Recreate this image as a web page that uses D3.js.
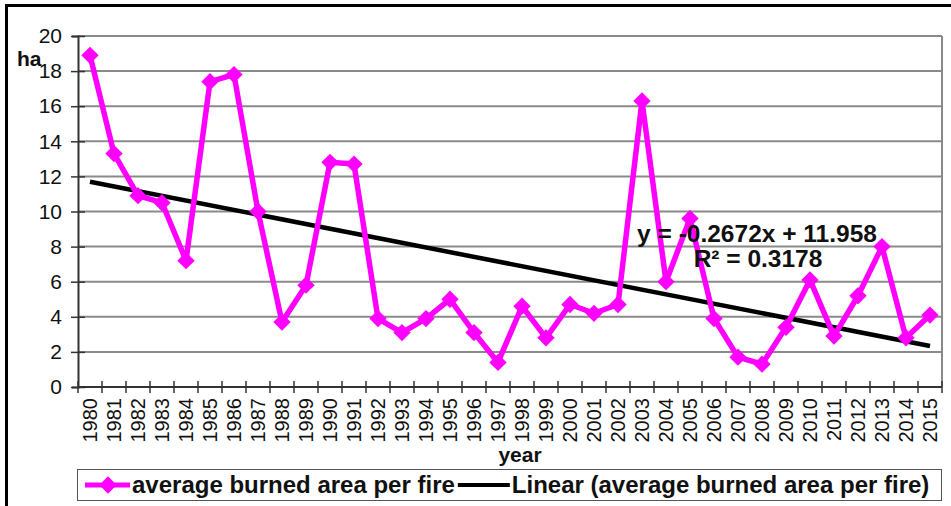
<!DOCTYPE html>
<html>
<head>
<meta charset="utf-8">
<script src="https://cdn.jsdelivr.net/npm/d3@7"></script>
<style>
  body { margin: 0; background: #fff; }
  text { font-family: Arial, "Liberation Sans", sans-serif; fill: #111; }
</style>
</head>
<body>
<svg id="chart" width="951" height="506"></svg>
<script>
// Data.
const years = d3.range(1980, 2016).map(String);
const burnedArea = [18.9, 13.3, 10.9, 10.5, 7.2, 17.4, 17.8, 10.0, 3.7, 5.8,
    12.8, 12.7, 3.9, 3.1, 3.9, 5.0, 3.1, 1.4, 4.6, 2.8,
    4.7, 4.2, 4.7, 16.3, 6.0, 9.6, 3.9, 1.7, 1.3, 3.4,
    6.1, 2.9, 5.2, 8.0, 2.8, 4.1];
const trendSlope = -0.2672;
const trendIntercept = 11.958;
const yTicks = [0, 2, 4, 6, 8, 10, 12, 14, 16, 18, 20];
const equationLines = ["y = -0.2672x + 11.958", "R\u00b2 = 0.3178"];
const legendLabels = ["average burned area per fire", "Linear (average burned area per fire)"];

const svg = d3.select("#chart");

// Plot area.
const plotLeft = 78, plotRight = 942, plotTop = 36, plotBottom = 387;

let x = d3.scaleBand().domain(years).range([plotLeft, plotRight]);
let y = d3.scaleLinear().domain([0, 20]).range([plotBottom, plotTop]);

// Outer frame (only top and left edges show).
svg.append("path")
    .attr("d", "M6.5,506 V5.5 H951")
    .attr("fill", "none")
    .attr("stroke", "#000")
    .attr("stroke-width", 3);

// Gridlines.
svg.append("g")
    .selectAll("line")
    .data(yTicks.filter(t => t > 0))
    .join("line")
    .attr("x1", plotLeft)
    .attr("x2", plotRight)
    .attr("y1", d => y(d))
    .attr("y2", d => y(d))
    .attr("stroke", "#8a8a8a")
    .attr("stroke-width", 2);

// Right border of the plot.
svg.append("line")
    .attr("x1", plotRight).attr("x2", plotRight)
    .attr("y1", plotTop).attr("y2", plotBottom)
    .attr("stroke", "#8a8a8a")
    .attr("stroke-width", 2);

// Y axis: ticks cross the axis line.
let yAxis = d3.axisLeft(y).tickValues(yTicks).tickSize(6).tickPadding(10);
let gy = svg.append("g").attr("transform", `translate(${plotLeft},0)`).call(yAxis);
gy.select(".domain").attr("stroke", "#333").attr("stroke-width", 2);
gy.selectAll(".tick line").attr("x2", -7).attr("x1", 7).attr("stroke", "#333").attr("stroke-width", 1.5);
gy.selectAll(".tick text")
    .attr("x", -16)
    .style("font-size", "21px")
    .attr("fill", "#222");

// X axis: ticks at category boundaries.
let gx = svg.append("g").attr("transform", `translate(0,${plotBottom})`);
gx.append("line")
    .attr("x1", plotLeft).attr("x2", plotRight)
    .attr("stroke", "#333").attr("stroke-width", 2);
gx.selectAll("line.tick")
    .data(d3.range(years.length + 1))
    .join("line")
    .attr("class", "tick")
    .attr("x1", i => plotLeft + i * x.step())
    .attr("x2", i => plotLeft + i * x.step())
    .attr("y1", -6)
    .attr("y2", 6)
    .attr("stroke", "#333")
    .attr("stroke-width", 1.5);
gx.selectAll("text")
    .data(years)
    .join("text")
    .attr("transform", d => `translate(${x(d) + x.bandwidth() / 2},11) rotate(-90)`)
    .attr("text-anchor", "end")
    .attr("dy", "0.36em")
    .style("font-size", "20px")
    .attr("fill", "#222")
    .text(d => d);

// Axis titles.
svg.append("text")
    .attr("x", 17).attr("y", 66)
    .style("font-size", "21px").style("font-weight", "bold")
    .text("ha");
svg.append("text")
    .attr("x", 520).attr("y", 462)
    .attr("text-anchor", "middle")
    .style("font-size", "21px").style("font-weight", "bold")
    .text("year");

// Trend line from the fitted equation.
let trend = years.map((yr, i) => ({ yr: yr, v: trendSlope * (i + 1) + trendIntercept }));
svg.append("line")
    .attr("x1", x(trend[0].yr) + x.bandwidth() / 2)
    .attr("y1", y(trend[0].v))
    .attr("x2", x(trend[trend.length - 1].yr) + x.bandwidth() / 2)
    .attr("y2", y(trend[trend.length - 1].v))
    .attr("stroke", "#000")
    .attr("stroke-width", 4.5);

// Data series.
let points = years.map((yr, i) => ({ yr: yr, v: burnedArea[i] }));
let line = d3.line()
    .x(d => x(d.yr) + x.bandwidth() / 2)
    .y(d => y(d.v));
svg.append("path")
    .datum(points)
    .attr("d", line)
    .attr("fill", "none")
    .attr("stroke", "#ff00ff")
    .attr("stroke-width", 5.5)
    .attr("stroke-linejoin", "round");

let diamond = d3.symbol(d3.symbolSquare, 150);
svg.append("g")
    .selectAll("path")
    .data(points)
    .join("path")
    .attr("d", diamond)
    .attr("transform", d => `translate(${x(d.yr) + x.bandwidth() / 2},${y(d.v)}) rotate(45)`)
    .attr("fill", "#ff00ff");

// Trend equation.
svg.append("text")
    .attr("x", 757).attr("y", 242)
    .attr("text-anchor", "middle")
    .style("font-size", "24.5px").style("font-weight", "bold")
    .text(equationLines[0]);
svg.append("text")
    .attr("x", 758).attr("y", 267)
    .attr("text-anchor", "middle")
    .style("font-size", "24.5px").style("font-weight", "bold")
    .text(equationLines[1]);

// Legend.
let legend = svg.append("g");
legend.append("rect")
    .attr("x", 77.5).attr("y", 469.5)
    .attr("width", 864).attr("height", 31)
    .attr("fill", "#fff")
    .attr("stroke", "#555")
    .attr("stroke-width", 1);
let ly = 485;
legend.append("line")
    .attr("x1", 85).attr("x2", 130)
    .attr("y1", ly).attr("y2", ly)
    .attr("stroke", "#ff00ff").attr("stroke-width", 5);
legend.append("path")
    .attr("d", diamond)
    .attr("transform", `translate(108,${ly}) rotate(45)`)
    .attr("fill", "#ff00ff");
let t1 = legend.append("text")
    .attr("x", 132).attr("y", ly + 8)
    .style("font-size", "24px").style("font-weight", "bold")
    .text(legendLabels[0]);
let x2 = 132 + t1.node().getComputedTextLength() + 3;
legend.append("line")
    .attr("x1", x2).attr("x2", x2 + 52)
    .attr("y1", ly).attr("y2", ly)
    .attr("stroke", "#000").attr("stroke-width", 4);
legend.append("text")
    .attr("x", x2 + 54).attr("y", ly + 8)
    .style("font-size", "24px").style("font-weight", "bold")
    .text(legendLabels[1]);
</script>
</body>
</html>
